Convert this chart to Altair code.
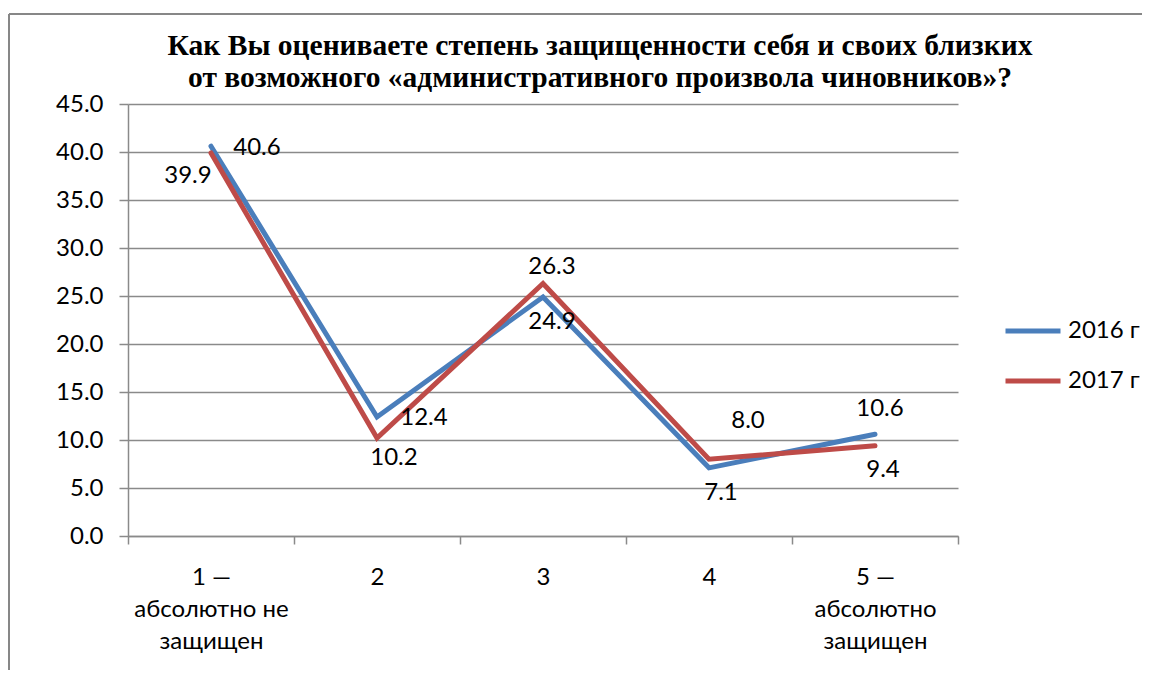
import altair as alt
import pandas as pd

categories = ["1 —\nабсолютно не\nзащищен", "2", "3", "4", "5 —\nабсолютно\nзащищен"]
series_names = ["2016 г", "2017 г"]
values_2016 = [40.6, 12.4, 24.9, 7.1, 10.6]
values_2017 = [39.9, 10.2, 26.3, 8.0, 9.4]
y_ticks = [0, 5, 10, 15, 20, 25, 30, 35, 40, 45]

# label offsets in pixels (dx, dy) for each point's value label
label_offsets_2016 = [(46, 2), (47, 1), (9, 25), (12, 25), (5, -25)]
label_offsets_2017 = [(-23, 23), (17, 20), (9, -17), (39, -38), (8, 24)]

rows = []
for i, c in enumerate(categories):
    rows.append({"cat": c, "series": series_names[0], "value": values_2016[i], "idx": i})
for i, c in enumerate(categories):
    rows.append({"cat": c, "series": series_names[1], "value": values_2017[i], "idx": i})
df = pd.DataFrame(rows)

FONT = "Lato"
FS = 24
colors = ["#4a7ebb", "#be4b48"]

x_enc = alt.X(
    "cat:N",
    sort=categories,
    bandPosition=0.5,
    scale=alt.Scale(type="band", paddingInner=0, paddingOuter=0),
    axis=alt.Axis(
        title=None,
        labelAngle=0,
        labelExpr="split(datum.label, '\\n')",
        labelFont=FONT,
        labelFontSize=FS,
        labelLineHeight=32,
        labelColor="#000000",
        labelPadding=21,
        tickBand="extent",
        tickSize=8,
        tickColor="#8a8a8a",
        tickWidth=1.5,
        domainColor="#8a8a8a",
        domainWidth=1.5,
        grid=False,
        labelLimit=300,
    ),
)
y_enc = alt.Y(
    "value:Q",
    scale=alt.Scale(domain=[0, 45], nice=False, zero=True),
    axis=alt.Axis(
        title=None,
        values=y_ticks,
        format=".1f",
        labelFont=FONT,
        labelFontSize=FS,
        labelColor="#000000",
        labelPadding=16,
        tickSize=9,
        tickColor="#8a8a8a",
        tickWidth=1.5,
        domainColor="#8a8a8a",
        domainWidth=1.5,
        grid=True,
        gridColor="#8a8a8a",
        gridWidth=1.5,
    ),
)

base = alt.Chart(df)

lines = base.mark_line(strokeWidth=5, strokeCap="round", strokeJoin="miter").encode(
    x=x_enc,
    y=y_enc,
    color=alt.Color(
        "series:N",
        scale=alt.Scale(domain=series_names, range=colors),
        legend=alt.Legend(
            title=None,
            orient="none",
            legendX=875,
            legendY=197,
            symbolType="stroke",
            symbolSize=3025,
            symbolStrokeWidth=5,
            labelFont=FONT,
            labelFontSize=FS,
            labelColor="#000000",
            labelOffset=5,
            rowPadding=8,
            padding=0,
        ),
    ),
)

layers = [lines]
for s_i, (name, offs) in enumerate(zip(series_names, [label_offsets_2016, label_offsets_2017])):
    for i, (dx, dy) in enumerate(offs):
        t = (
            base.transform_filter((alt.datum.series == name) & (alt.datum.idx == i))
            .mark_text(font=FONT, fontSize=FS, color="#000000", align="center", baseline="middle", dx=dx, dy=dy)
            .encode(x=alt.X("cat:N", sort=categories, bandPosition=0.5), y="value:Q", text=alt.Text("value:Q", format=".1f"))
        )
        layers.append(t)

border_df = pd.DataFrame({"a": [0]})
border_left = alt.Chart(border_df).mark_rule(color="#878787", strokeWidth=2).encode(
    x=alt.value(-119), y=alt.value(-90), y2=alt.value(700)
)
border_top = alt.Chart(border_df).mark_rule(color="#878787", strokeWidth=2).encode(
    x=alt.value(-119), x2=alt.value(1100), y=alt.value(-90)
)
layers += [border_left, border_top]

chart = (
    alt.layer(*layers)
    .properties(
        width=830,
        height=432,
        autosize=alt.AutoSizeParams(type="none"),
        padding={"left": 120, "top": 96, "right": 184, "bottom": 134},
        title=alt.TitleParams(
            text=["Как Вы оцениваете степень защищенности себя и своих близких",
                  "от возможного «административного произвола чиновников»?"],
            font="Liberation Serif",
            fontSize=29.5,
            fontWeight="bold",
            color="#000000",
            anchor="middle",
            frame="group",
            dx=57,
            offset=-80,
            lineHeight=32,
        ),
    )
    .configure_view(stroke=None)
)

chart.save("out.html", embed_options={"renderer": "svg", "actions": False})
